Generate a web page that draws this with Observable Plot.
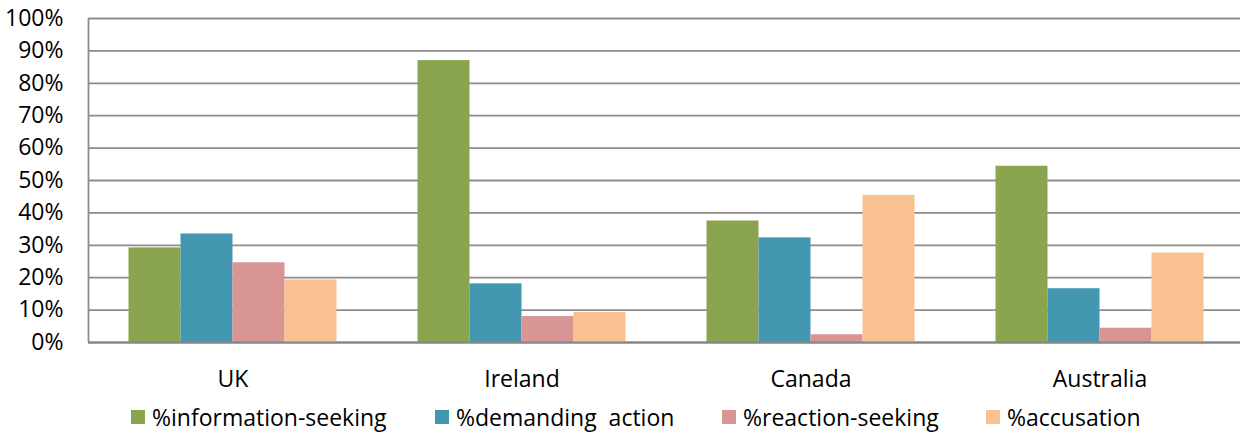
<!DOCTYPE html>
<html><head><meta charset="utf-8">
<script src="https://cdn.jsdelivr.net/npm/d3@7"></script>
<script src="https://cdn.jsdelivr.net/npm/@observablehq/plot@0.6"></script>
<style>
html,body{margin:0;padding:0;background:#fff;overflow:hidden;}
#chart{position:relative;width:1240px;height:434px;font-family:"Open Sans";}
#legend{position:absolute;left:0;top:398px;width:1240px;height:38px;}
.item{position:absolute;top:0;height:38px;display:flex;align-items:center;white-space:pre;font-size:23px;color:#000;font-family:"Open Sans";}
.sw{width:14px;height:14px;margin-right:7px;flex:none;}
</style></head><body><div id="chart"><div id="legend"></div></div>
<script>
const countries = ["UK", "Ireland", "Canada", "Australia"];
const seriesNames = ["%information-seeking", "%demanding  action", "%reaction-seeking", "%accusation"];
const infoSeeking   = [0.292, 0.870, 0.375, 0.544];
const demandAction  = [0.335, 0.181, 0.323, 0.166];
const reactionSeek  = [0.246, 0.080, 0.024, 0.044];
const accusation    = [0.193, 0.093, 0.454, 0.276];
const yTicks = [0, 0.1, 0.2, 0.3, 0.4, 0.5, 0.6, 0.7, 0.8, 0.9, 1.0];
const colors = ["#8aa54e", "#4397b0", "#d99494", "#f9c090"];
const legendX = [131, 435, 722, 986];

const seriesValues = [infoSeeking, demandAction, reactionSeek, accusation];
const rows = [];
countries.forEach((c, i) => seriesNames.forEach((s, j) => rows.push({country: c, series: s, value: seriesValues[j][i]})));

const plot = Plot.plot({
  width: 1240, height: 398,
  marginLeft: 87.5, marginRight: -5, marginTop: 18, marginBottom: 56,
  style: {fontFamily: "Open Sans", fontSize: "23px", color: "#000", background: "#fff"},
  fx: {domain: countries, padding: 0, label: null},
  x: {domain: seriesNames, paddingInner: 0, paddingOuter: 0.7445, axis: null},
  y: {domain: [0, 1], axis: null, label: null},
  color: {domain: seriesNames, range: colors},
  marks: [
    Plot.gridY(yTicks, {stroke: "#8c8c8c", strokeOpacity: 1, strokeWidth: 1.8}),
    Plot.barY(rows, {fx: "country", x: "series", y: "value", fill: "series", inset: 0}),
    Plot.ruleY([0], {stroke: "#868686", strokeWidth: 2.2}),
    Plot.axisY(yTicks, {tickFormat: d3.format(".0%"), tickSize: 0, tickPadding: 25, fontSize: 23, anchor: "left", fill: "#000", label: null}),
    Plot.axisFx({tickSize: 0, tickPadding: 28, fontSize: 23, label: null, anchor: "bottom", fill: "#000"})
  ]
});
const ys = plot.scale("y");
d3.select(plot).append("line")
  .attr("x1", 88.5).attr("x2", 88.5)
  .attr("y1", ys.apply(0)).attr("y2", ys.apply(1))
  .attr("stroke", "#8c8c8c").attr("stroke-width", 1.8);
const chart = document.getElementById("chart");
chart.insertBefore(plot, chart.firstChild);

const legend = d3.select("#legend");
seriesNames.forEach((s, j) => {
  const it = legend.append("div").attr("class", "item").style("left", legendX[j] + "px");
  it.append("div").attr("class", "sw").style("background", colors[j]);
  it.append("span").text(s);
});
</script>
</body></html>
